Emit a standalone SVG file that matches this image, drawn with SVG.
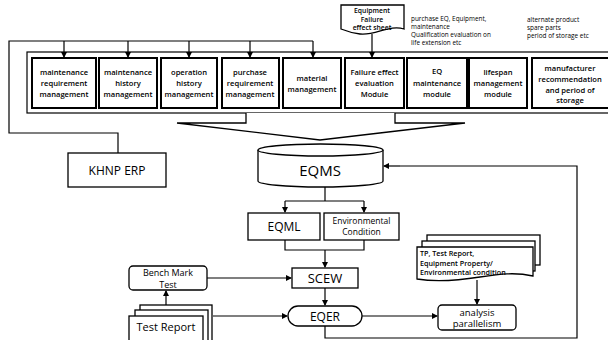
<svg xmlns="http://www.w3.org/2000/svg" width="608" height="340" viewBox="0 0 608 340">
<defs>
<marker id="ah" markerWidth="6" markerHeight="6" refX="5" refY="3" orient="auto" markerUnits="userSpaceOnUse">
<path d="M0,0 L6,3 L0,6 Z" fill="#000"/>
</marker>
<style>
.ln{fill:none;stroke:#000;stroke-width:1.2}
.bx{fill:#fff;stroke:#000;stroke-width:2}
.sh{fill:#fff;stroke:#000;stroke-width:1.3}
.t8{font-family:"Open Sans","Noto Sans",sans-serif;font-size:7.6px;font-weight:600;text-anchor:middle;fill:#000}
.t6{font-family:"Open Sans","Noto Sans",sans-serif;font-size:6.4px;fill:#000}
.big{font-family:"Open Sans","Noto Sans",sans-serif;text-anchor:middle;fill:#000}
</style>
</defs>
<rect width="608" height="340" fill="#fff"/>

<g id="container">
<rect x="27" y="52" width="600" height="61" fill="#fff" stroke="#000" stroke-width="1.2"/>
<path d="M246,113 V123 H177 L320,140 L465,123 H395 V113" fill="#fff" stroke="#000" stroke-width="1.3"/>
</g>

<g id="n1"><rect class="bx" x="32" y="58" width="64" height="50"/>
<text class="t8" x="64" y="75">maintenance</text><text class="t8" x="64" y="86">requirement</text><text class="t8" x="64" y="97">management</text></g>
<g id="n2"><rect class="bx" x="99" y="58" width="58" height="50"/>
<text class="t8" x="128" y="75">maintenance</text><text class="t8" x="128" y="86">history</text><text class="t8" x="128" y="97">management</text></g>
<g id="n3"><rect class="bx" x="161" y="58" width="56" height="50"/>
<text class="t8" x="189" y="75">operation</text><text class="t8" x="189" y="86">history</text><text class="t8" x="189" y="97">management</text></g>
<g id="n4"><rect class="bx" x="222" y="58" width="57" height="50"/>
<text class="t8" x="250" y="75">purchase</text><text class="t8" x="250" y="86">requirement</text><text class="t8" x="250" y="97">management</text></g>
<g id="n5"><rect class="bx" x="283" y="58" width="58" height="50"/>
<text class="t8" x="312" y="81">material</text><text class="t8" x="312" y="92">management</text></g>
<g id="n6"><rect class="bx" x="345" y="58" width="59" height="50"/>
<text class="t8" x="374.5" y="75">Failure effect</text><text class="t8" x="374.5" y="86">evaluation</text><text class="t8" x="374.5" y="97">Module</text></g>
<g id="n7"><rect class="bx" x="407" y="58" width="60" height="50"/>
<text class="t8" x="437" y="74">EQ</text><text class="t8" x="437" y="86">maintenance</text><text class="t8" x="437" y="97">module</text></g>
<g id="n8"><rect class="bx" x="469" y="58" width="58" height="50"/>
<text class="t8" x="498" y="75">lifespan</text><text class="t8" x="498" y="86">management</text><text class="t8" x="498" y="97">module</text></g>
<g id="n9"><rect class="bx" x="532" y="58" width="80" height="50"/>
<text class="t8" x="570" y="71">manufacturer</text><text class="t8" x="570" y="82">recommendation</text><text class="t8" x="570" y="93">and period of</text><text class="t8" x="570" y="103">storage</text></g>

<g id="sheet">
<path class="sh" d="M341,5 H404 V29 C390,24 375,36 360,34 C352,33 346,31 341,29 Z"/>
<text class="t8" x="372" y="13" style="font-size:6.8px">Equipment</text><text class="t8" x="372" y="21.5" style="font-size:6.8px">Failure</text><text class="t8" x="372" y="30" style="font-size:6.8px">effect sheet</text>
</g>

<g id="notes">
<text class="t6" x="411" y="21">purchase EQ, Equipment,</text>
<text class="t6" x="411" y="29">maintenance</text>
<text class="t6" x="411" y="37">Qualification evaluation on</text>
<text class="t6" x="411" y="45">life extension etc</text>
<text class="t6" x="527" y="22">alternate product</text>
<text class="t6" x="527" y="30">spare parts</text>
<text class="t6" x="527" y="38">period of storage etc</text>
</g>

<g id="khnp"><rect class="sh" x="68" y="153" width="98" height="34"/>
<text class="big" x="117" y="175" font-size="12">KHNP ERP</text></g>

<g id="eqms">
<path class="sh" d="M258,150 V181 A62.5,6 0 0 0 383,181 V150"/>
<ellipse class="sh" cx="320.5" cy="150" rx="62.5" ry="6"/>
<text class="big" x="320" y="176" font-size="15">EQMS</text>
</g>

<g id="eqml"><rect class="sh" x="248" y="213" width="72" height="27"/>
<text class="big" x="284" y="231" font-size="12">EQML</text></g>
<g id="env"><rect class="sh" x="324" y="213" width="75" height="27"/>
<text class="big" x="361.5" y="224" font-size="8.5">Environmental</text><text class="big" x="361.5" y="235" font-size="8.5">Condition</text></g>

<g id="scew"><rect class="sh" x="292" y="268" width="66" height="20"/>
<text class="big" x="325" y="283" font-size="13">SCEW</text></g>

<g id="eqer"><rect class="sh" x="288" y="306" width="74" height="20" rx="10"/>
<text class="big" x="325" y="321" font-size="12">EQER</text></g>

<g id="bench"><rect class="sh" x="129" y="266" width="78" height="24" rx="4"/>
<text class="big" x="168" y="276" font-size="9">Bench Mark</text><text class="big" x="168" y="287.5" font-size="9">Test</text></g>

<g id="testreport">
<rect class="sh" x="140" y="305" width="72" height="45"/>
<rect class="sh" x="135" y="310" width="73" height="40"/>
<rect class="sh" x="129" y="316" width="74" height="34"/>
<text class="big" x="166" y="331" font-size="11">Test Report</text>
</g>

<g id="tpdocs">
<rect class="sh" x="427" y="235" width="113" height="30"/>
<rect class="sh" x="422" y="241" width="113" height="30"/>
<path class="sh" d="M417,247 H533 V276 C515,272 500,274 480,277 C455,281 435,282 417,279 Z"/>
<text class="t8" x="420" y="256" style="text-anchor:start;font-size:7.2px">TP, Test Report,</text>
<text class="t8" x="420" y="265.5" style="text-anchor:start;font-size:7.2px">Equipment Property/</text>
<text class="t8" x="420" y="275" style="text-anchor:start;font-size:7.2px">Environmental condition</text>
</g>

<g id="analysis"><rect class="sh" x="438" y="305" width="78" height="25" rx="4"/>
<text class="big" x="477" y="315.5" font-size="9.5">analysis</text><text class="big" x="477" y="327" font-size="9.5">parallelism</text></g>

<g id="connectors">
<polyline class="ln" points="313,41 9,41 9,133 118,133 118,153"/>
<line class="ln" x1="64" y1="41" x2="64" y2="57" marker-end="url(#ah)"/>
<line class="ln" x1="128" y1="41" x2="128" y2="57" marker-end="url(#ah)"/>
<line class="ln" x1="189" y1="41" x2="189" y2="57" marker-end="url(#ah)"/>
<line class="ln" x1="250" y1="41" x2="250" y2="57" marker-end="url(#ah)"/>
<line class="ln" x1="313" y1="41" x2="313" y2="57" marker-end="url(#ah)"/>
<line class="ln" x1="372" y1="34" x2="372" y2="57" marker-end="url(#ah)"/>
<line class="ln" x1="325" y1="187" x2="325" y2="201"/>
<polyline class="ln" points="285,201 364,201"/>
<line class="ln" x1="285" y1="201" x2="285" y2="212" marker-end="url(#ah)"/>
<line class="ln" x1="364" y1="201" x2="364" y2="212" marker-end="url(#ah)"/>
<polyline class="ln" points="285,240 285,250 364,250 364,240"/>
<line class="ln" x1="325" y1="250" x2="325" y2="267" marker-end="url(#ah)"/>
<line class="ln" x1="325" y1="288" x2="325" y2="305" marker-end="url(#ah)"/>
<line class="ln" x1="207" y1="278" x2="291" y2="278" marker-end="url(#ah)"/>
<line class="ln" x1="213" y1="316" x2="287" y2="316" marker-end="url(#ah)"/>
<line class="ln" x1="362" y1="316" x2="437" y2="316" marker-end="url(#ah)"/>
<line class="ln" x1="477" y1="280" x2="477" y2="304" marker-end="url(#ah)"/>
<line class="ln" x1="166" y1="305" x2="166" y2="291" marker-end="url(#ah)"/>
<polyline class="ln" points="325,326 325,338 577,338 577,166 400,166"/>
<line class="ln" x1="400" y1="166" x2="384" y2="166" marker-end="url(#ah)"/>
</g>
</svg>
